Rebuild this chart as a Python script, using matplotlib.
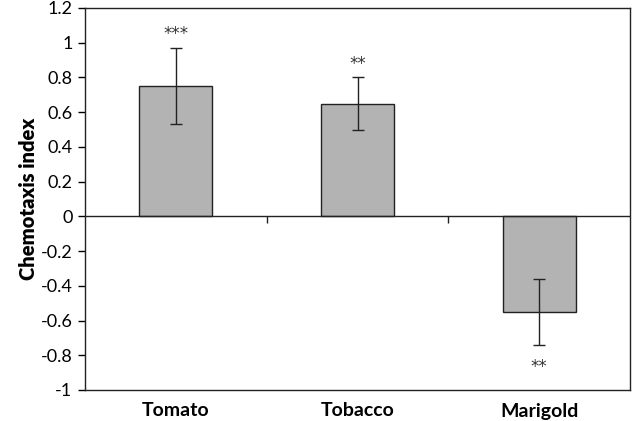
import matplotlib.pyplot as plt

categories = ['Tomato', 'Tobacco', 'Marigold']
chemotaxis = [0.75, 0.65, -0.55]
errors = [0.22, 0.15, 0.19]
stars = ['***', '**', '**']

plt.rcParams['font.family'] = ['Lato', 'DejaVu Sans']

fig = plt.figure(figsize=(6.33, 4.21), dpi=100)
ax = fig.add_axes([85 / 633, 1 - 390 / 421, 545 / 633, 382 / 421])

x = list(range(len(categories)))
ax.bar(x, chemotaxis, width=0.4, color='#b3b3b3', edgecolor='#222222', linewidth=1,
       yerr=errors, error_kw=dict(ecolor='#222222', elinewidth=1, capsize=4, capthick=1))

for i, v in enumerate(chemotaxis):
    if v >= 0:
        ax.text(i, v + errors[i] + 0.08, stars[i], ha='center', va='center',
                fontsize=12, family='DejaVu Sans', color='#333333')
    else:
        ax.text(i, v - errors[i] - 0.13, stars[i], ha='center', va='center',
                fontsize=12, family='DejaVu Sans', color='#333333')

ax.set_xlim(-0.5, 2.5)
ax.set_ylim(-1, 1.2)
ax.set_yticks([-1, -0.8, -0.6, -0.4, -0.2, 0, 0.2, 0.4, 0.6, 0.8, 1, 1.2])
ax.set_yticklabels(['-1', '-0.8', '-0.6', '-0.4', '-0.2', '0', '0.2', '0.4', '0.6', '0.8', '1', '1.2'])
ax.tick_params(axis='y', direction='out', length=5, labelsize=13, width=1, pad=4)
ax.set_xticks(x)
ax.set_xticklabels(categories, fontweight='bold', fontsize=14)
ax.tick_params(axis='x', length=0, pad=9)
ax.set_ylabel('Chemotaxis index', fontweight='heavy', fontsize=14.5, labelpad=2)

for s in ax.spines.values():
    s.set_color('#222222')
    s.set_linewidth(1)

# zero axis line with category boundary ticks
ax.axhline(0, color='#222222', linewidth=1)
sec = ax.secondary_xaxis(1 / 2.2)
sec.set_xticks([0.5, 1.5])
sec.set_xticklabels(['', ''])
sec.tick_params(direction='out', length=5, width=1, color='#222222')
sec.spines['bottom'].set_visible(False)
sec.spines['top'].set_visible(False)

fig.savefig('out.png', dpi=100)
